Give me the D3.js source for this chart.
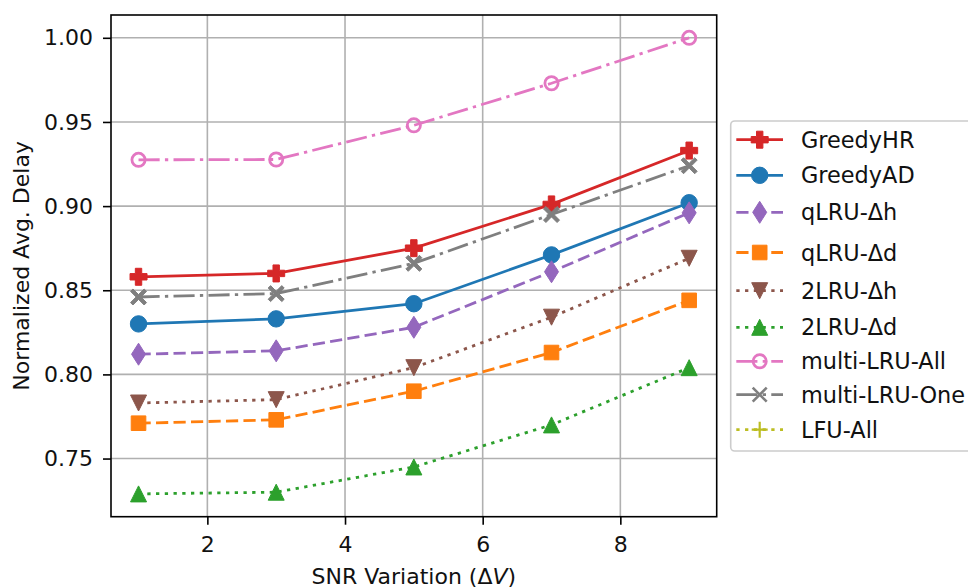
<!DOCTYPE html>
<html>
<head>
<meta charset="utf-8">
<script src="https://cdn.jsdelivr.net/npm/d3@7"></script>
<style>
  html, body { margin: 0; padding: 0; background: #fff; }
  svg { display: block; }
  text { font-family: "DejaVu Sans", sans-serif; fill: #111; }
</style>
</head>
<body>
<svg id="chart" width="968" height="588"></svg>
<script>
// ---- data ----
const xValues = [1, 3, 5, 7, 9];
const seriesNames = ["GreedyHR", "GreedyAD", "qLRU-Δh", "qLRU-Δd", "2LRU-Δh", "2LRU-Δd", "multi-LRU-All", "multi-LRU-One", "LFU-All"];
const greedyHR    = [0.858, 0.860, 0.875, 0.901, 0.933];
const greedyAD    = [0.830, 0.833, 0.842, 0.871, 0.902];
const qlruDh      = [0.812, 0.814, 0.828, 0.861, 0.896];
const qlruDd      = [0.771, 0.773, 0.790, 0.813, 0.844];
const twoLruDh    = [0.783, 0.785, 0.804, 0.834, 0.869];
const twoLruDd    = [0.729, 0.730, 0.745, 0.770, 0.804];
const multiLruAll = [0.9275, 0.9277, 0.948, 0.973, 1.000];
const multiLruOne = [0.846, 0.848, 0.866, 0.895, 0.924];
const lfuAll      = [];
const xTicks = [2, 4, 6, 8];
const yTicks = [0.75, 0.80, 0.85, 0.90, 0.95, 1.00];
const xLabel = "SNR Variation (Δ";
const xLabelItalic = "V";
const yLabel = "Normalized Avg. Delay";

// ---- styles ----
const seriesValues = [greedyHR, greedyAD, qlruDh, qlruDd, twoLruDh, twoLruDd, multiLruAll, multiLruOne, lfuAll];
const colors = ["#d62728", "#1f77b4", "#9467bd", "#ff7f0e", "#8c564b", "#2ca02c", "#e377c2", "#7f7f7f", "#bcbd22"];
const styles = ["solid", "solid", "dashed", "dashed", "dotted", "dotted", "dashdot", "dashdot", "dotted"];
const markers = ["P", "o", "d", "s", "v", "^", "oOpen", "X", "+"];
const LW = 2.8, DS = 3.3;
const dashMap = {
  solid: null,
  dashed: [3.7 * DS, 1.6 * DS].join(","),
  dotted: [1 * DS, 1.65 * DS].join(","),
  dashdot: [6.4 * DS, 1.6 * DS, 1 * DS, 1.6 * DS].join(",")
};

// ---- layout ----
const plot = { left: 111, top: 15, right: 716.7, bottom: 516.7 };
const svg = d3.select("#chart");

const allY = seriesValues.flat();
const yMin = d3.min(allY), yMax = d3.max(allY);
const yPad = (yMax - yMin) * 0.05;
const xMin = d3.min(xValues), xMax = d3.max(xValues);
const xPad = (xMax - xMin) * 0.05;

const x = d3.scaleLinear().domain([xMin - xPad, xMax + xPad]).range([plot.left, plot.right]);
const y = d3.scaleLinear().domain([yMin - yPad, yMax + yPad]).range([plot.bottom, plot.top]);

// grid
const grid = svg.append("g");
grid.selectAll(".gx").data(xTicks).enter().append("line")
  .attr("x1", d => x(d)).attr("x2", d => x(d))
  .attr("y1", plot.top).attr("y2", plot.bottom)
  .attr("stroke", "#b0b0b0").attr("stroke-width", 1.6);
grid.selectAll(".gy").data(yTicks).enter().append("line")
  .attr("x1", plot.left).attr("x2", plot.right)
  .attr("y1", d => y(d)).attr("y2", d => y(d))
  .attr("stroke", "#b0b0b0").attr("stroke-width", 1.6);

// marker path generator
function markerPath(type, legend) {
  const p = d3.path();
  switch (type) {
    case "P": { const s = 8.5, a = 3.2;
      p.moveTo(-a, -s); p.lineTo(a, -s); p.lineTo(a, -a); p.lineTo(s, -a); p.lineTo(s, a); p.lineTo(a, a);
      p.lineTo(a, s); p.lineTo(-a, s); p.lineTo(-a, a); p.lineTo(-s, a); p.lineTo(-s, -a); p.lineTo(-a, -a); p.closePath(); break; }
    case "o": p.arc(0, 0, 8.2, 0, 2 * Math.PI); break;
    case "oOpen": p.arc(0, 0, 6.6, 0, 2 * Math.PI); break;
    case "d": p.moveTo(0, -11); p.lineTo(7, 0); p.lineTo(0, 11); p.lineTo(-7, 0); p.closePath(); break;
    case "s": p.rect(-7.3, -7.3, 14.6, 14.6); break;
    case "v": p.moveTo(-8, -8); p.lineTo(8, -8); p.lineTo(0, 8); p.closePath(); break;
    case "^": p.moveTo(-8, 8); p.lineTo(8, 8); p.lineTo(0, -8); p.closePath(); break;
    case "X": {
      if (legend) { const s = 7; p.moveTo(-s, -s); p.lineTo(s, s); p.moveTo(-s, s); p.lineTo(s, -s); break; }
      const s = 8, a = 2.4;
      const pts = [[0,-a],[s-a,-s],[s,-s+a],[a,0],[s,s-a],[s-a,s],[0,a],[-s+a,s],[-s,s-a],[-a,0],[-s,-s+a],[-s+a,-s]];
      pts.forEach((q, i) => i ? p.lineTo(q[0], q[1]) : p.moveTo(q[0], q[1])); p.closePath(); break; }
    case "+": { const s = 8; p.moveTo(-s, 0); p.lineTo(s, 0); p.moveTo(0, -s); p.lineTo(0, s); break; }
  }
  return p.toString();
}
function styleMarker(sel, i, legend) {
  const m = markers[i], c = colors[i];
  if (m === "oOpen") sel.attr("fill", "none").attr("stroke", c).attr("stroke-width", 2.8);
  else if (m === "+") sel.attr("fill", "none").attr("stroke", c).attr("stroke-width", 2.2);
  else if (m === "X" && legend) sel.attr("fill", "none").attr("stroke", c).attr("stroke-width", 2.6);
  else sel.attr("fill", c).attr("stroke", c).attr("stroke-width", 1);
}

// series
const line = d3.line().x((d, i) => x(xValues[i])).y(d => y(d));
const seriesG = svg.append("g");
seriesValues.forEach((vals, i) => {
  const g = seriesG.append("g");
  if (vals.length) {
    g.append("path").datum(vals).attr("d", line)
      .attr("fill", "none").attr("stroke", colors[i]).attr("stroke-width", LW)
      .attr("stroke-linejoin", "round")
      .attr("stroke-dasharray", dashMap[styles[i]]);
  }
  g.selectAll("path.mk").data(vals).enter().append("path").attr("class", "mk")
    .attr("d", markerPath(markers[i], false))
    .attr("transform", (d, j) => `translate(${x(xValues[j])},${y(d)})`)
    .call(sel => styleMarker(sel, i, false));
});

// frame
svg.append("rect").attr("x", plot.left).attr("y", plot.top)
  .attr("width", plot.right - plot.left).attr("height", plot.bottom - plot.top)
  .attr("fill", "none").attr("stroke", "#000").attr("stroke-width", 1.6);

// axes
const xAxis = d3.axisBottom(x).tickValues(xTicks).tickFormat(d3.format("d")).tickSize(8).tickSizeOuter(0).tickPadding(12);
const yAxis = d3.axisLeft(y).tickValues(yTicks).tickFormat(d3.format(".2f")).tickSize(8).tickSizeOuter(0).tickPadding(10);
const gx = svg.append("g").attr("transform", `translate(0,${plot.bottom})`).call(xAxis);
const gy = svg.append("g").attr("transform", `translate(${plot.left},0)`).call(yAxis);
[gx, gy].forEach(g => {
  g.select(".domain").remove();
  g.selectAll(".tick line").attr("stroke", "#000").attr("stroke-width", 1.6);
  g.selectAll(".tick text").attr("font-family", "DejaVu Sans").attr("font-size", 22).attr("fill", "#111");
});

// axis labels
const xl = svg.append("text").attr("x", (plot.left + plot.right) / 2).attr("y", 584)
  .attr("text-anchor", "middle").attr("font-size", 22);
xl.append("tspan").text(xLabel);
xl.append("tspan").attr("font-style", "italic").text(xLabelItalic);
xl.append("tspan").text(")");
svg.append("text").attr("transform", `translate(29,${(plot.top + plot.bottom) / 2}) rotate(-90)`)
  .attr("text-anchor", "middle").attr("font-size", 22).text(yLabel);

// legend
const legendRowY = [139.7, 175.3, 212.3, 252.5, 290.7, 327.3, 361.3, 394.7, 429.7];
const lg = svg.append("g");
lg.append("rect").attr("x", 730.7).attr("y", 121).attr("width", 260).attr("height", 330)
  .attr("rx", 4).attr("fill", "#fff").attr("fill-opacity", 0.8)
  .attr("stroke", "#cccccc").attr("stroke-width", 1.6);
seriesNames.forEach((name, i) => {
  const ry = legendRowY[i];
  const row = lg.append("g");
  row.append("line").attr("x1", 736.3).attr("x2", 783).attr("y1", ry).attr("y2", ry)
    .attr("stroke", colors[i]).attr("stroke-width", LW)
    .attr("stroke-dasharray", dashMap[styles[i]]);
  row.append("path").attr("d", markerPath(markers[i], true))
    .attr("transform", `translate(759.7,${ry})`)
    .call(sel => styleMarker(sel, i, true));
  row.append("text").attr("x", 801).attr("y", ry).attr("dy", "0.36em")
    .attr("font-size", 22.4).text(name);
});
</script>
</body>
</html>
